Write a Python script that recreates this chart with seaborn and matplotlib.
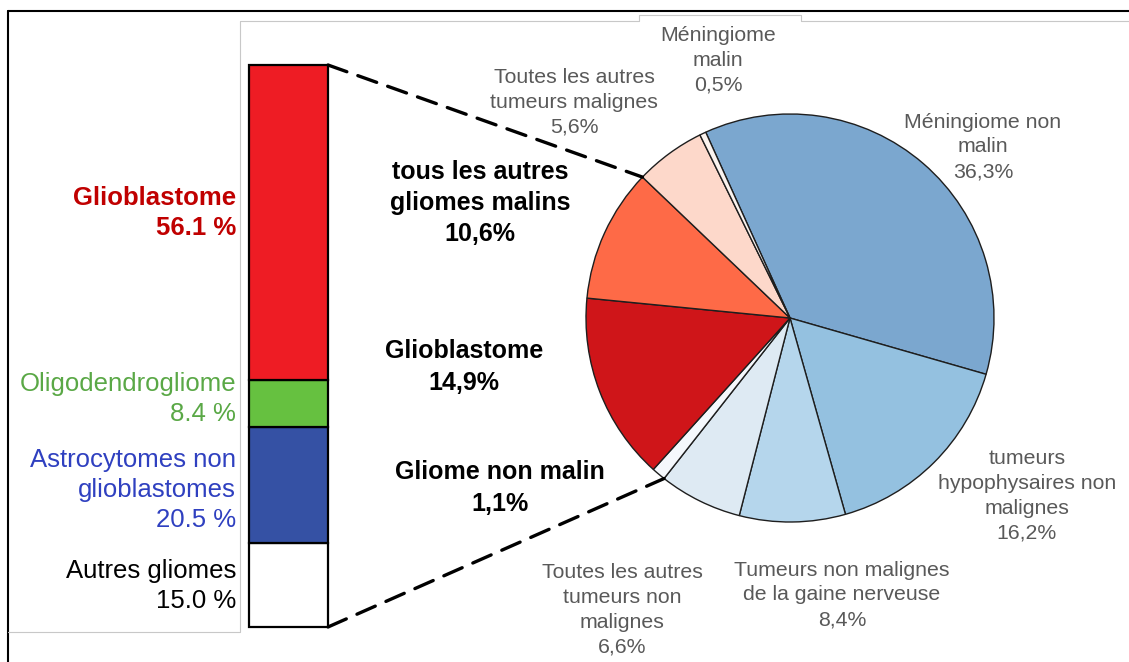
import numpy as np
import matplotlib
matplotlib.use("Agg")
import matplotlib.pyplot as plt
import seaborn as sns
from matplotlib.lines import Line2D
from matplotlib.patches import ConnectionPatch

# Style global
sns.set_theme(style="white")
plt.rcParams['font.family'] = ['Liberation Sans', 'DejaVu Sans']

# Données : répartition des tumeurs (camembert), sens horaire
pie_names = ["Méningiome non\nmalin", "tumeurs\nhypophysaires non\nmalignes",
             "Tumeurs non malignes\nde la gaine nerveuse", "Toutes les autres\ntumeurs non\nmalignes",
             "Gliome non malin", "Glioblastome", "tous les autres\ngliomes malins",
             "Toutes les autres\ntumeurs malignes", "Méningiome\nmalin"]
pie_values = [36.3, 16.2, 8.4, 6.6, 1.1, 14.9, 10.6, 5.6, 0.5]
pie_colors = ["#7BA7CF", "#94C1E0", "#B5D6EC", "#DEEAF3", "#F5F8FC",
              "#CF1519", "#FE6A47", "#FDD8CA", "#FBF3EE"]

# Données : barre empilée des gliomes (de bas en haut)
bar_names = ["Autres gliomes", "Astrocytomes non\nglioblastomes", "Oligodendrogliome", "Glioblastome"]
bar_values = [15.0, 20.5, 8.4, 56.1]
bar_colors = ["#FFFFFF", "#3551A4", "#66C140", "#EE1C24"]
bar_text_colors = ["#000000", "#2F40C0", "#5AA846", "#C00000"]

W, H = 1129, 662
fig = plt.figure(figsize=(W / 100, H / 100), dpi=100)
fig.patch.set_facecolor("white")


def fx(px):
    return px / W


def fy(py):
    return 1 - py / H


# Cadres
fig.add_artist(Line2D([fx(8), fx(W)], [fy(11), fy(11)], color="black", lw=1.5))
fig.add_artist(Line2D([fx(8), fx(8)], [fy(11), fy(H)], color="black", lw=1.5))
gx = [8, 240, 240, 639, 639, 801, 801, W]
gy = [632, 632, 21, 21, 15, 15, 21, 21]
fig.add_artist(Line2D([fx(v) for v in gx], [fy(v) for v in gy], color="#C8C8C8", lw=0.8))

# Barre empilée
ax_bar = fig.add_axes([fx(249), fy(627), fx(328) - fx(249), fy(65) - fy(627)])
bottom = 0
for val, col in zip(bar_values, bar_colors):
    b = ax_bar.bar(0, val, bottom=bottom, width=1, color=col, edgecolor="black", linewidth=1.6)
    for p in b:
        p.set_clip_on(False)
    bottom += val
ax_bar.set_xlim(-0.5, 0.5)
ax_bar.set_ylim(0, sum(bar_values))
ax_bar.axis("off")

# Étiquettes de la barre
bar_label_y = [586, 490, 399, 213]
for name, val, col, y in zip(bar_names, bar_values, bar_text_colors, bar_label_y):
    weight = "bold" if name == "Glioblastome" else "normal"
    fig.text(fx(236), fy(y), f"{name}\n{val:.1f} %", ha="right", va="center",
             color=col, fontsize=18.5, fontweight=weight, linespacing=1.3)

# Camembert
ax_pie = fig.add_axes([fx(586), fy(522), fx(994) - fx(586), fy(114) - fy(522)])
wedges, _ = ax_pie.pie(pie_values, colors=pie_colors, startangle=114.4, counterclock=False,
                       radius=1, wedgeprops=dict(edgecolor="#1E1E1E", linewidth=1.0))
ax_pie.set_xlim(-1, 1)
ax_pie.set_ylim(-1, 1)
ax_pie.axis("off")

# Étiquettes du camembert
pie_label_pos = [(983, 147), (1027, 496), (842, 595), (622, 610), (500, 488),
                 (464, 367), (480, 203), (574, 102), (718, 60)]
bold_names = {"Gliome non malin", "Glioblastome", "tous les autres\ngliomes malins"}
for name, val, (x, y) in zip(pie_names, pie_values, pie_label_pos):
    pct = f"{val:.1f}%".replace(".", ",")
    if name in bold_names:
        fig.text(fx(x), fy(y), f"{name}\n{pct}", ha="center", va="center",
                 color="black", fontsize=18, fontweight="bold", linespacing=1.38)
    else:
        fig.text(fx(x), fy(y), f"{name}\n{pct}", ha="center", va="center",
                 color="#595959", fontsize=15.3, linespacing=1.38)

# Lignes pointillées reliant la barre au camembert
top_ang = np.deg2rad(wedges[6].theta1)
bot_ang = np.deg2rad(wedges[4].theta2)
total = sum(bar_values)
for ya, ang in [(total, top_ang), (0, bot_ang)]:
    con = ConnectionPatch(xyA=(0.5, ya), coordsA="data", axesA=ax_bar,
                          xyB=(np.cos(ang), np.sin(ang)), coordsB="data", axesB=ax_pie,
                          color="black", lw=2.4, linestyle=(0, (6, 3.5)))
    fig.add_artist(con)

fig.savefig("out.png", dpi=100)
